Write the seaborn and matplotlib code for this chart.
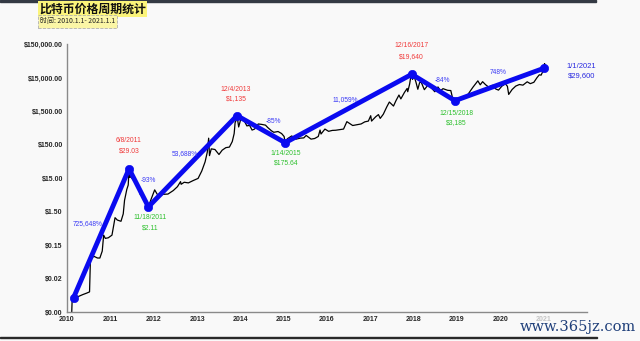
import numpy as np
import pandas as pd
import matplotlib
matplotlib.use("Agg")
import matplotlib.pyplot as plt
import matplotlib.dates as mdates
import seaborn as sns

# ---------------- data ----------------
price_dates = [
    "2010-02-10", "2010-02-14", "2010-03-15", "2010-04-15", "2010-05-15", "2010-06-15",
    "2010-07-10", "2010-07-17", "2010-07-25", "2010-08-15", "2010-09-15", "2010-10-05",
    "2010-10-25", "2010-11-06", "2010-11-20", "2010-12-15", "2011-01-15", "2011-02-10",
    "2011-03-01", "2011-04-01", "2011-04-20", "2011-05-01", "2011-05-20", "2011-06-01",
    "2011-06-08", "2011-06-12", "2011-06-20", "2011-07-10", "2011-08-01", "2011-08-20",
    "2011-09-10", "2011-10-01", "2011-10-20", "2011-11-18", "2011-12-10", "2012-01-10",
    "2012-02-01", "2012-02-20", "2012-03-20", "2012-05-01", "2012-06-15", "2012-07-20",
    "2012-08-15", "2012-08-20", "2012-09-15", "2012-10-20", "2012-12-01", "2013-01-10",
    "2013-02-10", "2013-03-10", "2013-03-28", "2013-04-09", "2013-04-16", "2013-05-01",
    "2013-06-01", "2013-07-05", "2013-08-01", "2013-09-01", "2013-10-01", "2013-10-25",
    "2013-11-10", "2013-11-18", "2013-11-25", "2013-12-04", "2013-12-18", "2014-01-05",
    "2014-02-01", "2014-02-25", "2014-03-20", "2014-04-10", "2014-05-01", "2014-06-01",
    "2014-07-01", "2014-08-01", "2014-08-20", "2014-09-20", "2014-10-10", "2014-11-15",
    "2014-12-15", "2015-01-05", "2015-01-14", "2015-02-01", "2015-03-10", "2015-04-15",
    "2015-05-20", "2015-06-20", "2015-07-10", "2015-08-20", "2015-09-20", "2015-10-20",
    "2015-11-04", "2015-11-12", "2015-12-15", "2016-01-15", "2016-02-15", "2016-03-15",
    "2016-04-15", "2016-05-20", "2016-06-17", "2016-07-10", "2016-08-05", "2016-09-15",
    "2016-10-15", "2016-11-15", "2016-12-15", "2017-01-04", "2017-01-11", "2017-02-15",
    "2017-03-10", "2017-03-25", "2017-04-20", "2017-05-20", "2017-06-10", "2017-07-15",
    "2017-08-05", "2017-08-30", "2017-09-15", "2017-10-15", "2017-11-07", "2017-11-12",
    "2017-11-28", "2017-12-07", "2017-12-16", "2017-12-22", "2018-01-05", "2018-01-20",
    "2018-02-05", "2018-02-20", "2018-03-05", "2018-04-01", "2018-05-05", "2018-06-28",
    "2018-07-25", "2018-08-15", "2018-09-05", "2018-10-15", "2018-11-10", "2018-11-25",
    "2018-12-15", "2019-01-10", "2019-02-10", "2019-03-10", "2019-04-05", "2019-05-15",
    "2019-06-26", "2019-07-16", "2019-08-05", "2019-08-30", "2019-09-25", "2019-10-26",
    "2019-11-25", "2019-12-17", "2020-01-15", "2020-02-13", "2020-03-01", "2020-03-12",
    "2020-04-10", "2020-05-10", "2020-06-10", "2020-07-10", "2020-08-15", "2020-09-10",
    "2020-10-10", "2020-11-05", "2020-11-25", "2020-12-10", "2020-12-25", "2021-01-01",
    "2021-01-08", "2021-01-15",
]
price_values = [
    0.0015, 0.004, 0.004, 0.0045, 0.005, 0.0055,
    0.006, 0.05, 0.06, 0.07, 0.062, 0.062,
    0.1, 0.3, 0.24, 0.25, 0.3, 1.0,
    0.85, 0.78, 1.3, 3.3, 7.0, 9.5,
    29.0, 16.0, 17.0, 14.0, 11.0, 9.0,
    5.0, 4.5, 3.2, 2.11, 3.5, 6.8,
    5.0, 4.6, 5.0, 5.1, 6.5, 8.5,
    12.0, 10.0, 11.5, 11.0, 13.0, 15.0,
    25.0, 47.0, 90.0, 240.0, 72.0, 115.0,
    110.0, 78.0, 105.0, 125.0, 130.0, 190.0,
    330.0, 700.0, 800.0, 1135.0, 520.0, 900.0,
    820.0, 560.0, 580.0, 420.0, 450.0, 640.0,
    620.0, 590.0, 500.0, 400.0, 360.0, 380.0,
    330.0, 270.0, 175.64, 230.0, 280.0, 225.0,
    240.0, 245.0, 290.0, 225.0, 235.0, 270.0,
    420.0, 320.0, 450.0, 385.0, 410.0, 415.0,
    430.0, 450.0, 750.0, 660.0, 575.0, 610.0,
    640.0, 740.0, 780.0, 1130.0, 780.0, 1050.0,
    1220.0, 940.0, 1250.0, 2100.0, 2900.0, 2200.0,
    3200.0, 4700.0, 3600.0, 5600.0, 7400.0, 5900.0,
    10000.0, 16000.0, 19640.0, 13800.0, 17000.0, 11500.0,
    7000.0, 11000.0, 11500.0, 6800.0, 9700.0, 5900.0,
    8200.0, 6300.0, 7300.0, 6500.0, 6400.0, 3800.0,
    3185.0, 3800.0, 3600.0, 3950.0, 5000.0, 8000.0,
    12500.0, 9500.0, 11800.0, 9600.0, 8100.0, 9200.0,
    7100.0, 6600.0, 8700.0, 10200.0, 8600.0, 4900.0,
    6900.0, 8700.0, 9700.0, 9300.0, 11700.0, 10300.0,
    11300.0, 15500.0, 19000.0, 18500.0, 24000.0, 29600.0,
    41000.0, 36500.0,
]

pivot_dates = ["2010-02-25", "2011-06-08", "2011-11-18", "2013-12-04",
               "2015-01-14", "2017-12-16", "2018-12-15", "2021-01-01"]
pivot_prices = [0.004, 29.03, 2.11, 1135, 175.64, 19640, 3185, 29600]
pivot_labels = ["", "6/8/2011", "11/18/2011", "12/4/2013", "1/14/2015",
                "12/16/2017", "12/15/2018", "1/1/2021"]
pivot_price_labels = ["", "$29.03", "$2.11", "$1,135", "$175.64",
                      "$19,640", "$3,185", "$29,600"]
pct_labels = ["725,648%", "-93%", "53,688%", "-85%", "11,059%", "-84%", "748%"]

year_ticks = [str(y) for y in range(2010, 2022)]
ytick_values = [0.0015, 0.015, 0.15, 1.5, 15, 150, 1500, 15000, 150000]
ytick_labels = ["$0.00", "$0.02", "$0.15", "$1.50", "$15.00", "$150.00",
                "$1,500.00", "$15,000.00", "$150,000.00"]

title = "比特币价格周期统计"
subtitle = "时间: 2010.1.1- 2021.1.1"
watermark = "www.365jz.com"

# ---------------- style ----------------
sns.set_theme(style="white")
plt.rcParams["font.family"] = ["Liberation Sans", "Noto Sans CJK SC", "DejaVu Sans"]

BG = "#f9f9f9"
BLUE = "#0a0af0"
BLUE_TXT = "#3b3bf5"
RED = "#f03a3a"
GREEN = "#2ec02e"

fig = plt.figure(figsize=(6.4, 3.41), dpi=100, facecolor=BG)
ax = fig.add_axes([67 / 640, 1 - 312 / 341, 520 / 640, 268 / 341])
ax.set_facecolor(BG)

price_df = pd.DataFrame({"date": pd.to_datetime(price_dates), "price": price_values})
pivot_df = pd.DataFrame({"date": pd.to_datetime(pivot_dates), "price": pivot_prices})

sns.lineplot(data=price_df, x="date", y="price", ax=ax, color="black",
             linewidth=0.9, sort=False, estimator=None)
sns.lineplot(data=pivot_df, x="date", y="price", ax=ax, color=BLUE,
             linewidth=3.5, sort=False, estimator=None, zorder=3)
sns.scatterplot(data=pivot_df, x="date", y="price", ax=ax, color=BLUE,
                s=36, edgecolor=BLUE, zorder=4)

ax.set_yscale("log")
ax.set_ylim(0.0015, 0.0015 * 10 ** (268 / 33.4))
ax.set_xlim(pd.Timestamp("2010-01-01"), pd.Timestamp("2022-01-01"))
ax.minorticks_off()
ax.set_yticks(ytick_values)
ax.set_yticklabels(ytick_labels, fontsize=5, fontweight="bold")
xt = [pd.Timestamp(f"{y}-01-01") for y in year_ticks]
ax.set_xticks(xt)
ax.set_xticklabels(year_ticks, fontsize=5, fontweight="bold")
ax.get_xticklabels()[-1].set_color("#c4c4c4")
ax.tick_params(axis="both", length=0, pad=3)
ax.set_xlabel("")
ax.set_ylabel("")
for s in ["top", "right"]:
    ax.spines[s].set_visible(False)
for s in ["left", "bottom"]:
    ax.spines[s].set_color("#8a8a8a")
    ax.spines[s].set_linewidth(1.0)

PX = 0.72  # points per pixel at 100 dpi

# pivot labels: (dx, dy_date, dy_price) in pixels
offsets = [None, (0, -28, -18), (2, 11, 21), (-1, -26, -17), (1, 11, 20),
           (0, -29, -18), (1, 13, 22), (38, -2, 7)]
for i in range(1, len(pivot_dates)):
    if i in (2, 4, 6):
        col = GREEN
    elif i == 7:
        col = "#2a2ae0"
    else:
        col = RED
    fs = 5.5 if i == 7 else 4.9
    dx, dy1, dy2 = offsets[i]
    xy = (mdates.date2num(pd.Timestamp(pivot_dates[i])), pivot_prices[i])
    ax.annotate(pivot_labels[i], xy=xy, xytext=(dx * PX, -dy1 * PX),
                textcoords="offset points", ha="center", va="center",
                fontsize=fs, color=col, annotation_clip=False)
    ax.annotate(pivot_price_labels[i], xy=xy, xytext=(dx * PX, -dy2 * PX),
                textcoords="offset points", ha="center", va="center",
                fontsize=fs, color=col, annotation_clip=False)

pct_offsets = [(-14, -10), (9.5, -7), (-7.5, -8), (12, -8), (-3.5, -8.5), (9.5, -6.5), (-1, -12)]
for i, lab in enumerate(pct_labels):
    d0 = pd.Timestamp(pivot_dates[i]); d1 = pd.Timestamp(pivot_dates[i + 1])
    md = d0 + (d1 - d0) / 2
    mp = np.sqrt(pivot_prices[i] * pivot_prices[i + 1])
    dx, dy = pct_offsets[i]
    ax.annotate(lab, xy=(mdates.date2num(md), mp), xytext=(dx * PX, -dy * PX),
                textcoords="offset points", ha="center", va="center",
                fontsize=4.8, color=BLUE_TXT)

# ---------------- decorations ----------------
fig.patches.append(plt.Rectangle((0, 1 - 2 / 341), 596 / 640, 2 / 341,
                                 transform=fig.transFigure, color="#343a44"))
fig.patches.append(plt.Rectangle((0, 1 - 338 / 341), 597 / 640, 1.5 / 341,
                                 transform=fig.transFigure, color="#2a2a2a"))

fig.text(39 / 640, 1 - 9 / 341, title, fontsize=8.6, fontweight="bold",
         family=["Noto Sans CJK SC", "DejaVu Sans"], va="center", ha="left",
         color="#111111",
         bbox=dict(boxstyle="square,pad=0.12", fc="#fbf47a", ec="none"))
fig.text(40 / 640, 1 - 21.5 / 341, subtitle, fontsize=5,
         family=["Noto Sans CJK SC", "DejaVu Sans"], va="center", ha="left",
         color="#222222",
         bbox=dict(boxstyle="square,pad=0.3", fc="#fbf6a6", ec="#b0b0b0",
                   ls="--", lw=0.6))

fig.text(636 / 640, 1 - 327 / 341, watermark, fontsize=10.5,
         family=["DejaVu Serif"], va="center", ha="right", color="#1f3f7a")

fig.savefig("out.png", dpi=100, facecolor=BG)
